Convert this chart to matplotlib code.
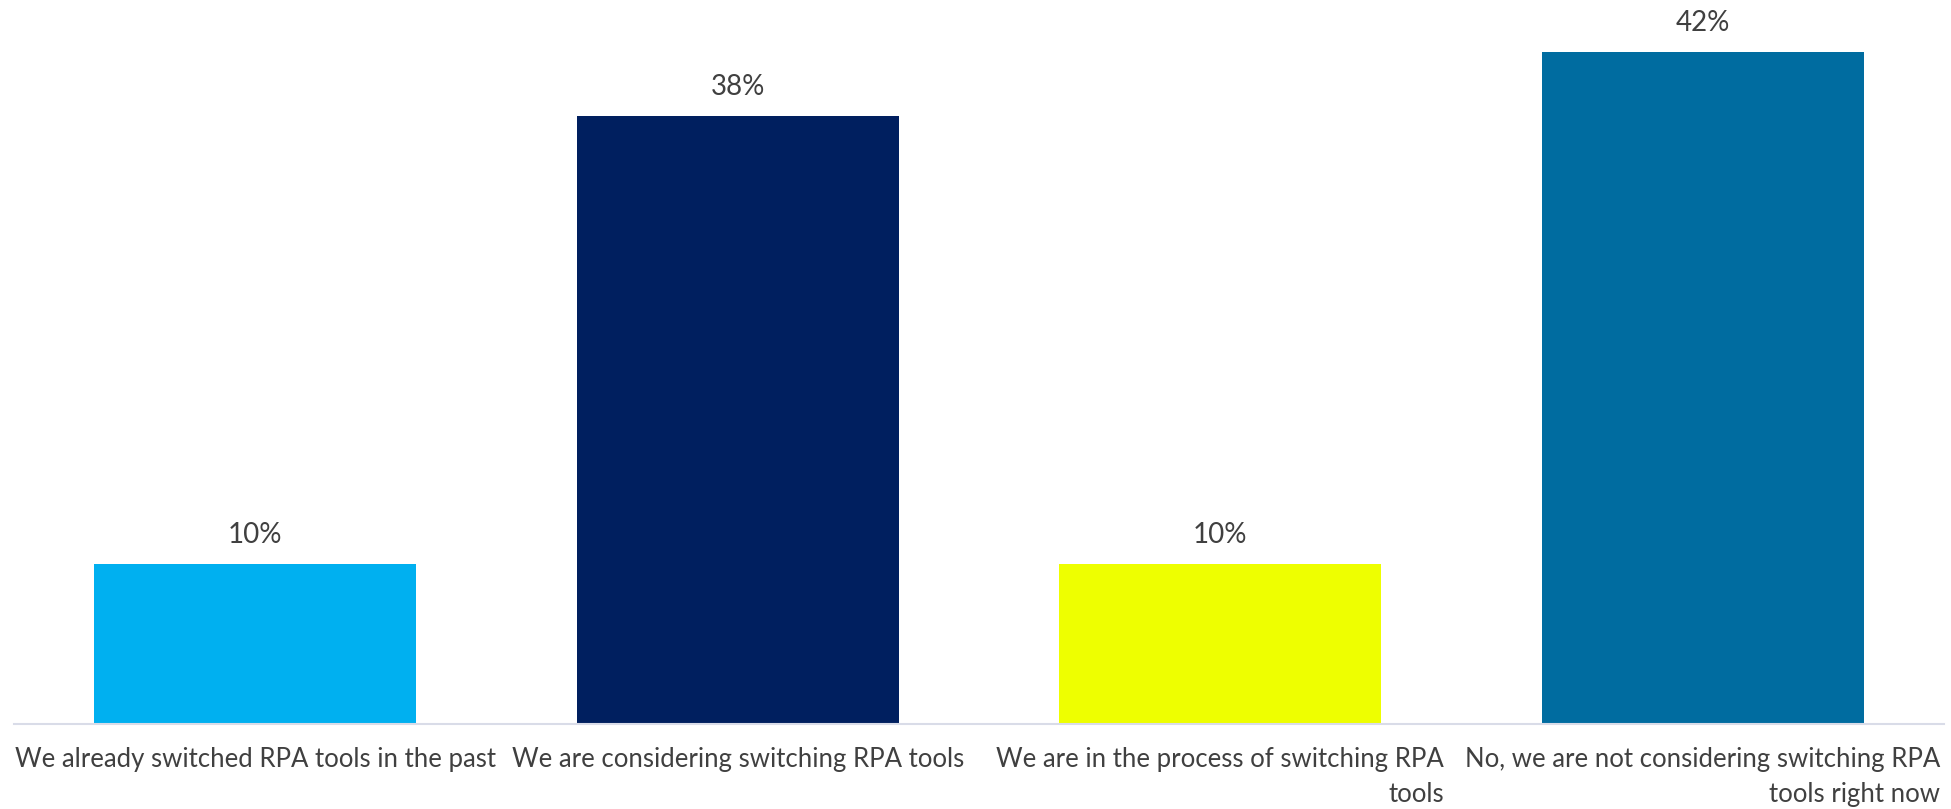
import matplotlib
matplotlib.use("Agg")
import matplotlib.pyplot as plt

# Survey answers and their shares (%)
categories = [
    "We already switched RPA tools in the past",
    "We are considering switching RPA tools",
    "We are in the process of switching RPA\ntools",
    "No, we are not considering switching RPA\ntools right now",
]
values = [10, 38, 10, 42]
value_labels = ["10%", "38%", "10%", "42%"]
colors = ["#00B0F0", "#001F5F", "#EEFF00", "#006CA0"]

plt.rcParams["font.family"] = ["Lato", "DejaVu Sans"]
text_color = "#404040"

fig = plt.figure(figsize=(19.51, 8.09), dpi=100)
ax = fig.add_axes([14 / 1951, 1 - 724 / 809, 1930 / 1951, 720 / 809])

x = range(len(categories))
bars = ax.bar(x, values, width=0.667, color=colors, zorder=2)

ax.set_xlim(-0.5, len(categories) - 0.5)
ax.set_ylim(0, 45)

for spine in ["top", "right", "left"]:
    ax.spines[spine].set_visible(False)
ax.spines["bottom"].set_color("#D9DCE8")
ax.spines["bottom"].set_linewidth(1.5)
ax.set_yticks([])
ax.set_xticks([])

# value labels above the bars
for i, (v, lab) in enumerate(zip(values, value_labels)):
    ax.annotate(lab, xy=(i, v), xytext=(0, 15), textcoords="offset points",
                ha="center", va="baseline", fontsize=20, color=text_color)

# category labels under the axis
for i, cat in enumerate(categories):
    ax.annotate(cat, xy=(i, 0), xytext=(0, -16.5), textcoords="offset points",
                ha="center", va="top", multialignment="right",
                fontsize=18.5, color=text_color, linespacing=1.52)

fig.savefig("out.png", dpi=100)
